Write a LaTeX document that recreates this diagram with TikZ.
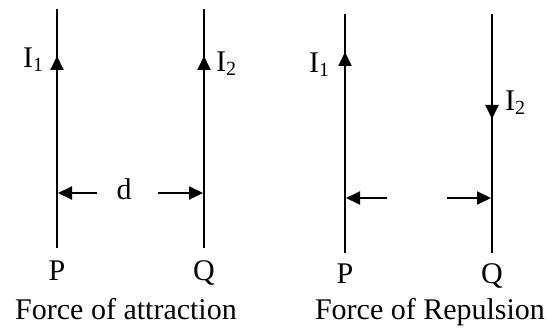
\documentclass[tikz,border=0pt]{standalone}
\usepackage{fontspec}
\setmainfont{Liberation Serif}
\usetikzlibrary{arrows.meta}
\newcommand\mysub[1]{\raisebox{-4pt}{\fontsize{20}{20}\selectfont #1}}
\begin{document}
\begin{tikzpicture}[x=1pt,y=-1pt,
  wire/.style={line width=1.9pt},
  tipline/.style={line width=1.9pt,-{Triangle[length=14pt,width=13pt]}},
  lbl/.style={inner sep=0pt,font=\fontsize{30}{32}\selectfont},
]
\useasboundingbox (0,0) rectangle (547,329);
% ---------- left panel: attraction ----------
\coordinate (PAt) at (57,9);   \coordinate (PAb) at (57,248);
\coordinate (QAt) at (204,9);  \coordinate (QAb) at (204,248);
\draw[wire] (PAt) -- (PAb);
\draw[wire] (QAt) -- (QAb);
\coordinate (PAas) at (57,74); \coordinate (PAae) at (57,56);
\coordinate (QAas) at (204,74); \coordinate (QAae) at (204,56);
\draw[tipline] (PAas) -- (PAae);
\draw[tipline] (QAas) -- (QAae);
\coordinate (dLs) at (97,193);  \coordinate (dLe) at (58,193);
\coordinate (dRs) at (158,193); \coordinate (dRe) at (203,193);
\draw[tipline] (dLs) -- (dLe);
\draw[tipline] (dRs) -- (dRe);
\node[lbl,anchor=base west] (IA1) at (23,68) {I\mysub{1}};
\node[lbl,anchor=base west] (IA2) at (216,72) {I\mysub{2}};
\node[lbl,anchor=base] (dlab) at (124,199) {d};
\node[lbl,anchor=base] (PAl) at (57,280) {P};
\node[lbl,anchor=base] (QAl) at (204,280) {Q};
\node[lbl,anchor=base] (capA) at (126,319) {Force of attraction};
% ---------- right panel: repulsion ----------
\coordinate (PRt) at (345,14);  \coordinate (PRb) at (345,253);
\coordinate (QRt) at (492,14);  \coordinate (QRb) at (492,253);
\draw[wire] (PRt) -- (PRb);
\draw[wire] (QRt) -- (QRb);
\coordinate (PRas) at (345,70); \coordinate (PRae) at (345,52);
\coordinate (QRas) at (492,100); \coordinate (QRae) at (492,119);
\draw[tipline] (PRas) -- (PRae);
\draw[tipline] (QRas) -- (QRae);
\coordinate (fLs) at (387,198); \coordinate (fLe) at (346,198);
\coordinate (fRs) at (447,198); \coordinate (fRe) at (491,198);
\draw[tipline] (fLs) -- (fLe);
\draw[tipline] (fRs) -- (fRe);
\node[lbl,anchor=base west] (IR1) at (309,73) {I\mysub{1}};
\node[lbl,anchor=base west] (IR2) at (505,111) {I\mysub{2}};
\node[lbl,anchor=base] (PRl) at (345,283) {P};
\node[lbl,anchor=base] (QRl) at (492,283) {Q};
\node[lbl,anchor=base] (capR) at (430,319) {Force of Repulsion};
\end{tikzpicture}
\end{document}
